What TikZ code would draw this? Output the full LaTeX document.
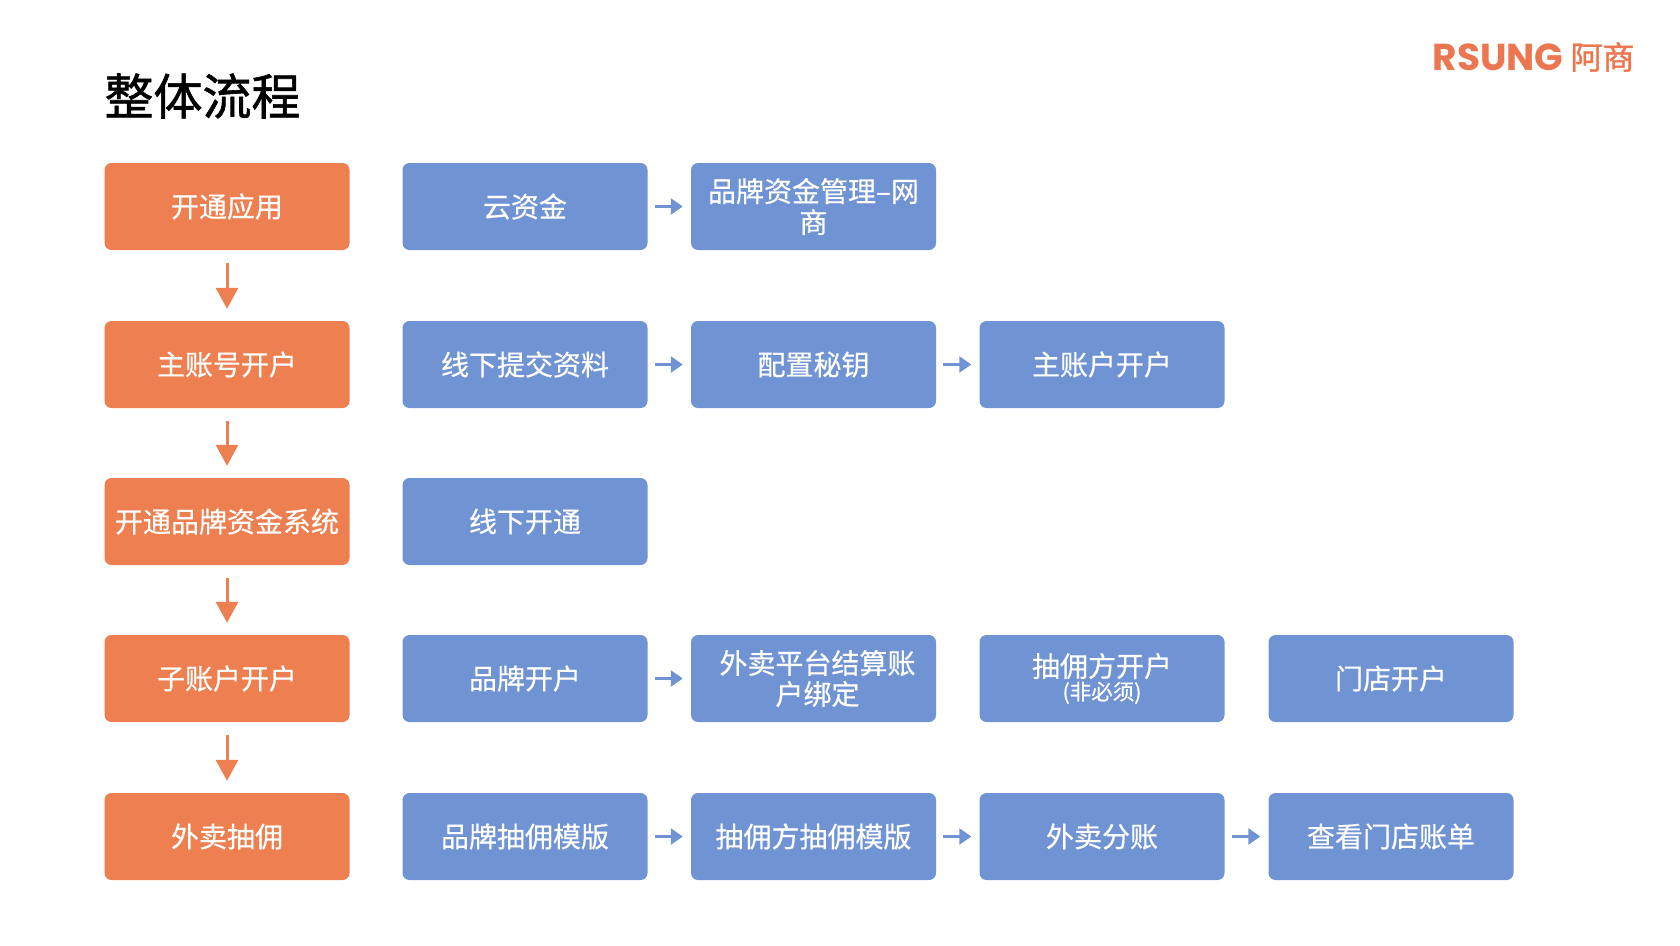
\documentclass[tikz,border=0pt]{standalone}
\usepackage{fontspec}
\setmainfont{Noto Sans CJK SC}
\newfontfamily\titlefont{Noto Sans CJK SC}[FakeBold=1.2]
\newfontfamily\boxfont{Noto Sans CJK SC}[FakeBold=0.5]
\newfontfamily\logofont{Poppins}
\usetikzlibrary{arrows.meta}
\definecolor{boxorange}{HTML}{ED7F50}
\definecolor{boxblue}{HTML}{7094D3}
\definecolor{logoorange}{HTML}{EC7650}
\tikzset{
  x=1pt,y=-1pt,
  basebox/.style={rounded corners=7pt,minimum width=245pt,minimum height=87pt,inner sep=0pt,
    text=white,align=center,font=\boxfont\fontsize{28}{31}\selectfont,
    execute at begin node={\vspace*{2pt}}},
  stagebox/.style={basebox,fill=boxorange},
  stepbox/.style={basebox,fill=boxblue},
  downarrow/.style={draw=boxorange,line width=3pt,-{Triangle[length=21pt,width=22pt]},shorten <=13pt,shorten >=12pt},
  sidearrow/.style={draw=boxblue,line width=2.5pt,-{Triangle[length=12pt,width=16pt]},shorten <=7pt,shorten >=8pt}
}
\begin{document}
\begin{tikzpicture}
\useasboundingbox (0,0) rectangle (1680,945);
\node (title) at (202.5,96) {\titlefont\fontsize{49}{56}\selectfont 整体流程};
\node[text=logoorange,inner sep=0pt] (logoa) at (1498,57) {\logofont\bfseries\fontsize{37.5}{40}\selectfont RSUNG};
\node[text=logoorange,inner sep=0pt] (logob) at (1602.5,57) {\titlefont\fontsize{32}{34}\selectfont 阿商};

\node[stagebox] (s1) at (227,206.5) {开通应用};
\node[stagebox] (s2) at (227,364.5) {主账号开户};
\node[stagebox] (s3) at (227,521.5) {开通品牌资金系统};
\node[stagebox] (s4) at (227,678.5) {子账户开户};
\node[stagebox] (s5) at (227,836.5) {外卖抽佣};

\node[stepbox] (a1) at (525,206.5) {云资金};
\node[stepbox] (a2) at (813.5,206.5) {品牌资金管理–网\\商};

\node[stepbox] (b1) at (525,364.5) {线下提交资料};
\node[stepbox] (b2) at (813.5,364.5) {配置秘钥};
\node[stepbox] (b3) at (1102,364.5) {主账户开户};

\node[stepbox] (c1) at (525,521.5) {线下开通};

\node[stepbox] (d1) at (525,678.5) {品牌开户};
\node[stepbox] (d2) at (813.5,678.5) {\hspace*{8pt}外卖平台结算账\\\hspace*{8pt}户绑定};
\node[stepbox] (d3) at (1102,678.5) {抽佣方开户\\[-8pt]{\fontsize{21.5}{22}\selectfont (非必须)}};
\node[stepbox] (d4) at (1391,678.5) {门店开户};

\node[stepbox] (e1) at (525,836.5) {品牌抽佣模版};
\node[stepbox] (e2) at (813.5,836.5) {抽佣方抽佣模版};
\node[stepbox] (e3) at (1102,836.5) {外卖分账};
\node[stepbox] (e4) at (1391,836.5) {查看门店账单};

\draw[downarrow] (s1) -- (s2);
\draw[downarrow] (s2) -- (s3);
\draw[downarrow] (s3) -- (s4);
\draw[downarrow] (s4) -- (s5);
\draw[sidearrow] (a1) -- (a2);
\draw[sidearrow] (b1) -- (b2);
\draw[sidearrow] (b2) -- (b3);
\draw[sidearrow] (d1) -- (d2);
\draw[sidearrow] (e1) -- (e2);
\draw[sidearrow] (e2) -- (e3);
\draw[sidearrow] (e3) -- (e4);
\end{tikzpicture}
\end{document}
